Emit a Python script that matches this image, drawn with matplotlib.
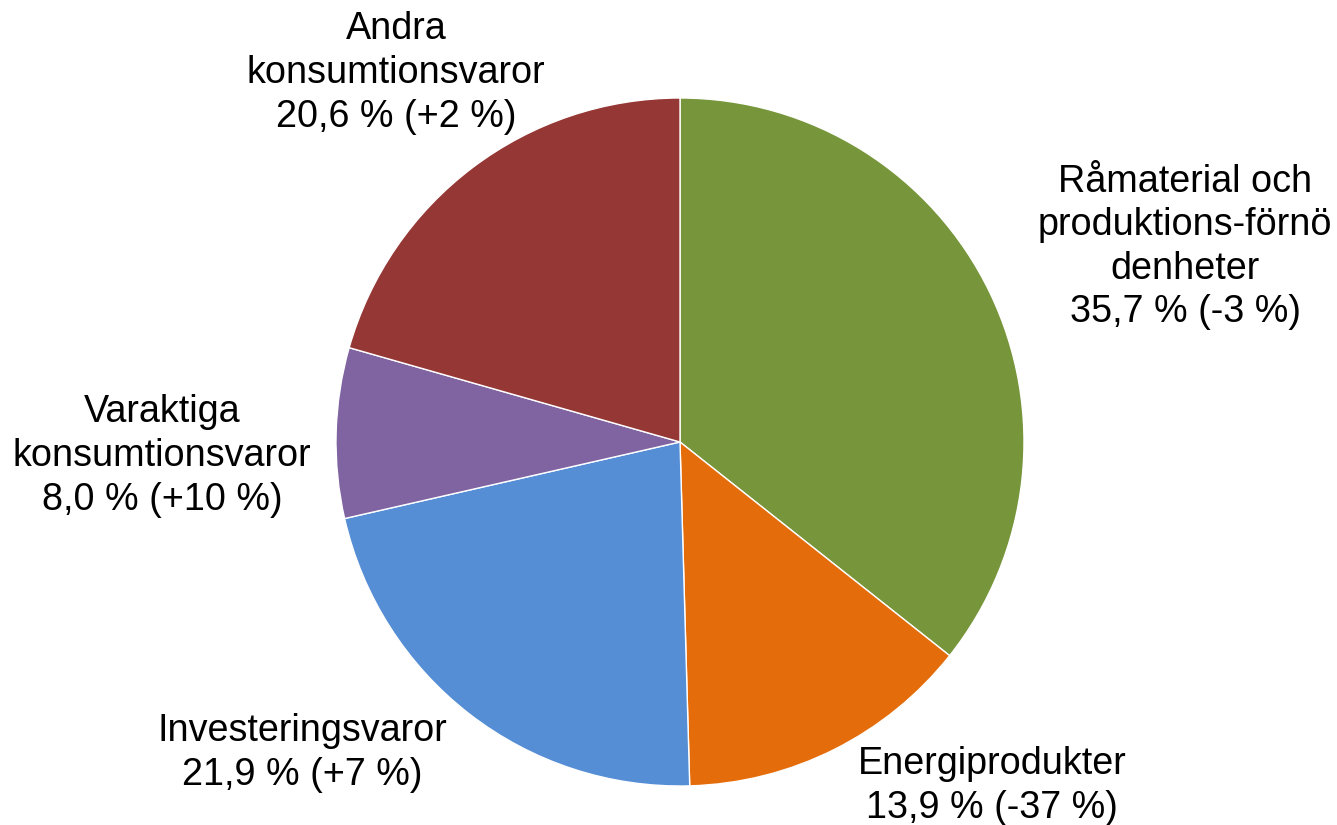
import matplotlib
matplotlib.use("Agg")
import matplotlib.pyplot as plt

categories = ["Råmaterial och\nproduktions-förnö\ndenheter", "Energiprodukter",
              "Investeringsvaror", "Varaktiga\nkonsumtionsvaror", "Andra\nkonsumtionsvaror"]
shares = [35.7, 13.9, 21.9, 8.0, 20.6]
changes = ["-3", "-37", "+7", "+10", "+2"]
colors = ["#77963B", "#E46C0A", "#558ED5", "#8064A2", "#953735"]

plt.rcParams['font.family'] = ['Liberation Sans', 'DejaVu Sans']

W, H = 1337, 825
fig = plt.figure(figsize=(W / 100, H / 100), dpi=100)
ax = fig.add_axes([0, 0, 1, 1])
ax.set_xlim(0, W)
ax.set_ylim(0, H)
ax.set_aspect('equal')
ax.axis('off')

cx, cy, r = 680, H - 442, 344
ax.pie(shares, colors=colors, startangle=90, counterclock=False,
       center=(cx, cy), radius=r, frame=True,
       wedgeprops=dict(edgecolor='white', linewidth=1))
ax.set_xlim(0, W)
ax.set_ylim(0, H)
ax.axis('off')

label_pos = [(1185, 247), (992, 786), (302, 753), (162, 456), (396, 73)]
for cat, s, ch, (x, y) in zip(categories, shares, changes, label_pos):
    txt = f"{cat}\n{s:.1f}".replace(".", ",") + f" % ({ch} %)"
    ax.text(x, H - y, txt, ha='center', va='center', multialignment='center',
            fontsize=27.2, color='black', linespacing=1.27)

fig.savefig("out.png", dpi=100)
